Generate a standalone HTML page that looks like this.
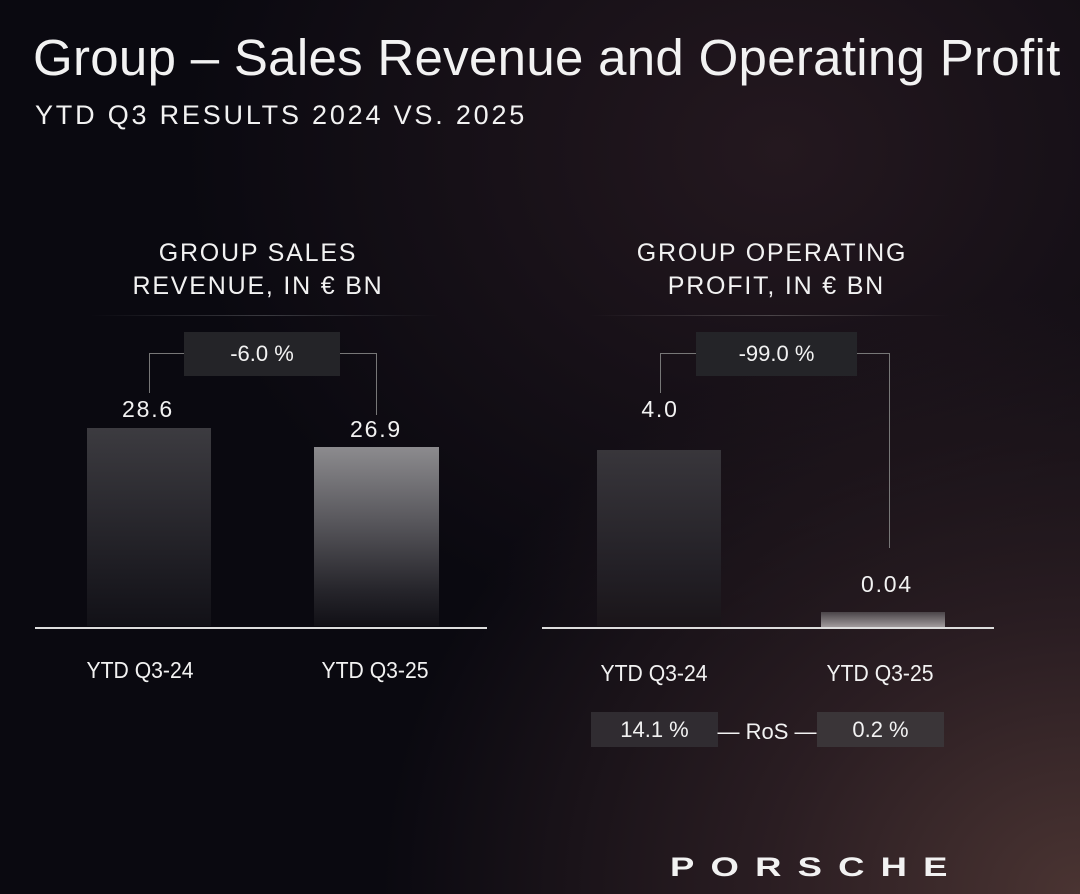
<!DOCTYPE html>
<html><head><meta charset="utf-8"><style>
*{margin:0;padding:0;box-sizing:border-box}
body{width:1080px;height:894px;overflow:hidden;position:relative;font-family:"Liberation Sans",sans-serif;color:#f2f2f2;
background:radial-gradient(ellipse 700px 600px at 1080px 894px,#4a3432 0%,#2a1d22 45%,rgba(20,14,20,0) 100%),
radial-gradient(ellipse 600px 500px at 780px 150px,#24181f 0%,rgba(0,0,0,0) 100%),#0a0910;}
.a{position:absolute;white-space:nowrap}
.c{transform:translateX(-50%);text-align:center}
.h{font-size:25px;letter-spacing:1.8px;line-height:33px}
.v{font-size:23px;letter-spacing:1.8px}
.x{font-size:23px;transform:translateX(-50%) scaleX(0.92)}
.box{position:absolute;background:#242428;font-size:22px;display:flex;align-items:center;justify-content:center}
.ln{position:absolute;background:#777}
</style></head><body>
<div class="a" style="left:33px;top:28px;font-size:51px;letter-spacing:0.3px">Group – Sales Revenue and Operating Profit</div>
<div class="a" style="left:35px;top:100px;font-size:27px;letter-spacing:2.8px">YTD Q3 RESULTS 2024 VS. 2025</div>

<div class="a c h" style="left:258px;top:237px">GROUP SALES<br>REVENUE, IN € BN</div>
<div class="a c h" style="left:772px;top:237px">GROUP OPERATING<br>&nbsp;PROFIT, IN € BN</div>
<div class="a" style="left:90px;top:315px;width:350px;height:1px;background:linear-gradient(90deg,transparent,#3a3a40,transparent)"></div>
<div class="a" style="left:590px;top:315px;width:360px;height:1px;background:linear-gradient(90deg,transparent,#4a4448,transparent)"></div>

<div class="ln" style="left:149px;top:353px;width:36px;height:1px"></div>
<div class="ln" style="left:149px;top:353px;width:1px;height:40px"></div>
<div class="ln" style="left:340px;top:353px;width:36px;height:1px"></div>
<div class="ln" style="left:376px;top:353px;width:1px;height:62px"></div>
<div class="box" style="left:184px;top:332px;width:156px;height:44px">-6.0 %</div>
<div class="a c v" style="left:148px;top:396px">28.6</div>
<div class="a c v" style="left:376px;top:416px">26.9</div>
<div class="a" style="left:87px;top:428px;width:124px;height:198px;background:linear-gradient(#3c3b40,#1e1d23 70%,#121117)"></div>
<div class="a" style="left:314px;top:447px;width:125px;height:179px;background:linear-gradient(#8c8b8e,#5a595e 40%,#26252b 80%,#111016)"></div>
<div class="a" style="left:35px;top:627px;width:452px;height:2px;background:#ddd"></div>
<div class="a x" style="left:140px;top:657px">YTD Q3-24</div>
<div class="a x" style="left:375px;top:657px">YTD Q3-25</div>

<div class="ln" style="left:660px;top:353px;width:36px;height:1px"></div>
<div class="ln" style="left:660px;top:353px;width:1px;height:40px"></div>
<div class="ln" style="left:857px;top:353px;width:32px;height:1px"></div>
<div class="ln" style="left:889px;top:353px;width:1px;height:195px"></div>
<div class="box" style="left:696px;top:332px;width:161px;height:44px">-99.0 %</div>
<div class="a c v" style="left:660px;top:396px">4.0</div>
<div class="a c v" style="left:887px;top:571px">0.04</div>
<div class="a" style="left:597px;top:450px;width:124px;height:176px;background:linear-gradient(#38363b,#221f25 70%,#1a1519)"></div>
<div class="a" style="left:821px;top:612px;width:124px;height:15px;background:linear-gradient(#4a4448,#a09a9c)"></div>
<div class="a" style="left:542px;top:627px;width:452px;height:2px;background:#ddd"></div>
<div class="a x" style="left:654px;top:660px">YTD Q3-24</div>
<div class="a x" style="left:880px;top:660px">YTD Q3-25</div>
<div class="box" style="left:591px;top:712px;width:127px;height:35px;background:#302c31">14.1 %</div>
<div class="box" style="left:817px;top:712px;width:127px;height:35px;background:#3a3538">0.2 %</div>
<div class="a c" style="left:767px;top:719px;font-size:22px">— RoS —</div>

<div class="a" style="left:670px;top:852px;font-size:27px;font-weight:bold;letter-spacing:12px;transform:scaleX(1.35);transform-origin:left">PORSCHE</div>
</body></html>
